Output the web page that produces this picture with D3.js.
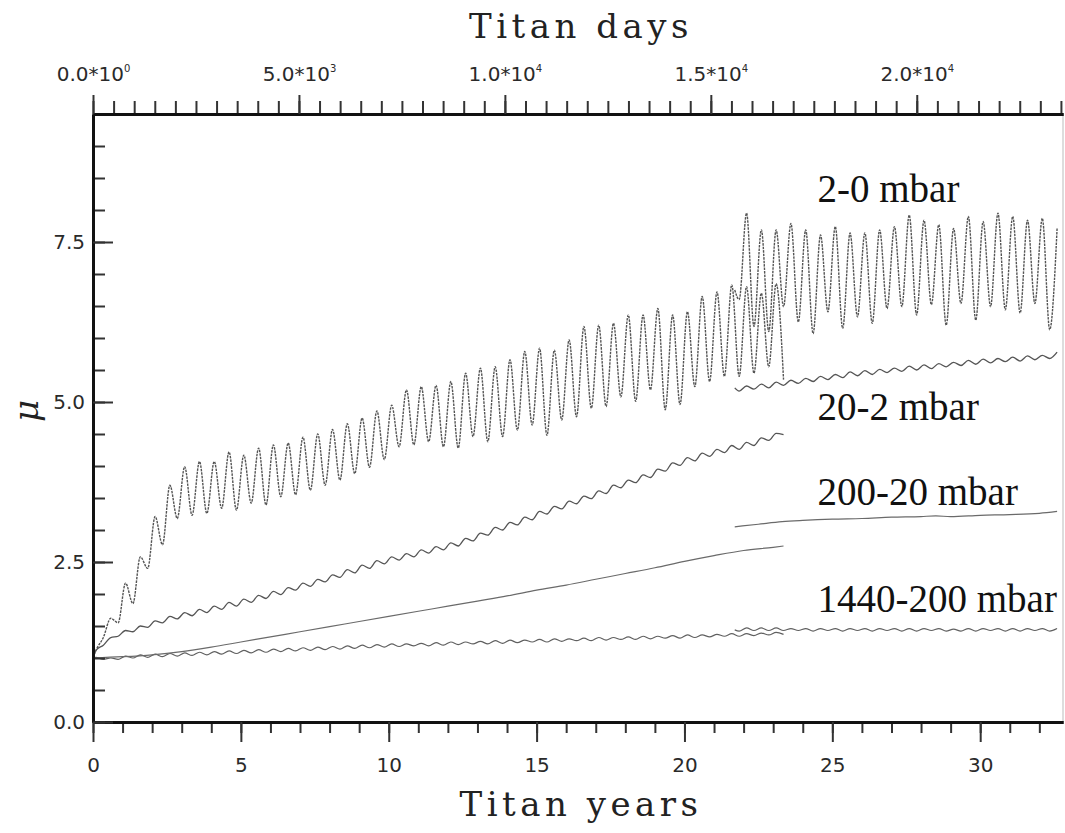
<!DOCTYPE html>
<html>
<head>
<meta charset="utf-8">
<script src="https://cdn.jsdelivr.net/npm/d3@7"></script>
<style>
  html, body { margin: 0; padding: 0; background: #fff; }
  svg { display: block; }
  .tick-label { font-family: "DejaVu Sans", Arial, sans-serif; font-size: 20px; fill: #2a2a2a; }
  .axis-title { font-family: "DejaVu Serif", serif; font-size: 34px; fill: #222; letter-spacing: 4.5px; }
  .series-label { font-family: "Liberation Serif", "Times New Roman", serif; font-size: 39px; fill: #111; }
</style>
</head>
<body>
<svg id="chart" width="1065" height="833"></svg>
<script>
// ---------------- data ----------------
// Axis ticks
const yearMajorTicks = [0, 5, 10, 15, 20, 25, 30];
const muMajorTicks = [0, 2.5, 5.0, 7.5];
const dayMajorTicks = [0, 5000, 10000, 15000, 20000];
const dayTickMantissa = ["0.0", "5.0", "1.0", "1.5", "2.0"];
const dayTickExponent = ["0", "3", "4", "4", "4"];
const titanDaysPerYear = 718;

// Sampling of the oscillating runs: first value sits at the run start,
// the following values are successive half-period extremes.
const halfPeriodStep = 0.25;
const run1Start = 0, run1FirstExtreme = 0.1;
const run2Start = 21.7, run2FirstExtreme = 21.85;

// 2-0 mbar
const mbar2to0Run1 = [1.00,
  1.12, 1.32, 1.62, 1.55, 2.17, 1.85, 2.58, 2.40, 3.21, 2.77,
  3.70, 3.18, 3.99, 3.23, 4.07, 3.26, 4.07, 3.34, 4.22, 3.31,
  4.17, 3.42, 4.28, 3.39, 4.33, 3.52, 4.36, 3.55, 4.45, 3.62,
  4.50, 3.70, 4.57, 3.78, 4.66, 3.88, 4.75, 3.98, 4.86, 4.10,
  4.95, 4.30, 5.19, 4.33, 5.24, 4.38, 5.26, 4.30, 5.32, 4.28,
  5.45, 4.46, 5.53, 4.38, 5.55, 4.46, 5.66, 4.56, 5.79, 4.64,
  5.84, 4.48, 5.81, 4.72, 5.97, 4.77, 6.18, 4.90, 6.20, 4.93,
  6.23, 5.08, 6.36, 5.01, 6.36, 5.19, 6.46, 4.88, 6.36, 4.96,
  6.41, 5.24, 6.65, 5.32, 6.72, 5.40, 6.83, 5.40, 6.80, 5.45,
  6.70, 5.55, 6.85, 5.35];
const mbar2to0Run2 = [6.75,
  6.60, 7.95, 6.18, 7.69, 6.10, 7.69, 6.49, 7.79, 6.25, 7.69,
  6.07, 7.61, 6.41, 7.74, 6.15, 7.64, 6.33, 7.64, 6.23, 7.69,
  6.46, 7.74, 6.49, 7.92, 6.36, 7.84, 6.52, 7.77, 6.20, 7.71,
  6.54, 7.90, 6.28, 7.82, 6.49, 7.95, 6.44, 7.90, 6.39, 7.84,
  6.54, 7.87, 6.13, 7.71];

// 20-2 mbar
const mbar20to2Run1 = [1.00,
  1.12, 1.20, 1.32, 1.34, 1.43, 1.41, 1.50, 1.48, 1.58, 1.55,
  1.65, 1.61, 1.71, 1.66, 1.76, 1.71, 1.81, 1.76, 1.87, 1.81,
  1.92, 1.87, 1.98, 1.93, 2.04, 1.99, 2.10, 2.06, 2.17, 2.12,
  2.23, 2.19, 2.30, 2.26, 2.38, 2.33, 2.45, 2.40, 2.52, 2.47,
  2.58, 2.53, 2.63, 2.58, 2.69, 2.64, 2.74, 2.69, 2.80, 2.75,
  2.87, 2.83, 2.95, 2.92, 3.04, 3.00, 3.12, 3.08, 3.20, 3.16,
  3.29, 3.25, 3.37, 3.33, 3.45, 3.41, 3.53, 3.49, 3.61, 3.57,
  3.70, 3.66, 3.78, 3.74, 3.86, 3.82, 3.95, 3.92, 4.05, 4.01,
  4.13, 4.08, 4.20, 4.15, 4.26, 4.21, 4.32, 4.26, 4.37, 4.32,
  4.44, 4.40, 4.51, 4.49];
const mbar20to2Run2 = [5.22,
  5.17, 5.25, 5.20, 5.28, 5.22, 5.31, 5.26, 5.34, 5.29, 5.37,
  5.32, 5.40, 5.35, 5.43, 5.38, 5.47, 5.41, 5.49, 5.43, 5.51,
  5.46, 5.53, 5.48, 5.56, 5.50, 5.58, 5.52, 5.60, 5.55, 5.62,
  5.57, 5.65, 5.59, 5.67, 5.61, 5.68, 5.63, 5.70, 5.64, 5.72,
  5.66, 5.73, 5.68, 5.78];

// 200-20 mbar (smooth runs, explicit years)
const mbar200to20Run1Years = [0, 1, 2, 3, 4, 5, 6, 7, 8, 9, 10, 11, 12, 13, 14, 15, 16, 17, 18, 19, 20, 21, 22, 23, 23.35];
const mbar200to20Run1 = [1.00, 1.02, 1.05, 1.10, 1.17, 1.25, 1.33, 1.41, 1.49, 1.57, 1.65, 1.73, 1.81, 1.89, 1.97, 2.06, 2.14, 2.23, 2.32, 2.41, 2.51, 2.60, 2.68, 2.73, 2.75];
const mbar200to20Run2Years = [21.7, 22.5, 23.3, 24, 25, 26, 27, 28, 28.5, 29, 30, 31, 32, 32.6];
const mbar200to20Run2 = [3.05, 3.09, 3.13, 3.15, 3.17, 3.18, 3.20, 3.21, 3.22, 3.21, 3.23, 3.24, 3.26, 3.29];

// 1440-200 mbar
const mbar1440to200Run1 = [1.00,
  1.01, 0.98, 1.00, 0.98, 1.03, 1.00, 1.05, 1.01, 1.06, 1.02,
  1.07, 1.03, 1.08, 1.04, 1.09, 1.05, 1.10, 1.06, 1.11, 1.07,
  1.12, 1.08, 1.13, 1.09, 1.14, 1.10, 1.15, 1.11, 1.16, 1.12,
  1.17, 1.13, 1.18, 1.14, 1.19, 1.15, 1.20, 1.16, 1.21, 1.17,
  1.22, 1.18, 1.22, 1.19, 1.23, 1.19, 1.24, 1.20, 1.25, 1.21,
  1.25, 1.22, 1.26, 1.22, 1.27, 1.23, 1.28, 1.24, 1.28, 1.25,
  1.29, 1.25, 1.30, 1.26, 1.30, 1.27, 1.31, 1.27, 1.32, 1.28,
  1.32, 1.29, 1.33, 1.29, 1.34, 1.30, 1.34, 1.31, 1.35, 1.31,
  1.36, 1.32, 1.36, 1.33, 1.37, 1.34, 1.38, 1.34, 1.38, 1.35,
  1.39, 1.36, 1.40, 1.37];
const mbar1440to200Run2 = [1.44,
  1.42, 1.47, 1.43, 1.47, 1.43, 1.47, 1.43, 1.46, 1.43, 1.46,
  1.42, 1.46, 1.43, 1.46, 1.42, 1.46, 1.43, 1.46, 1.42, 1.46,
  1.43, 1.46, 1.42, 1.46, 1.42, 1.46, 1.43, 1.46, 1.42, 1.45,
  1.42, 1.46, 1.42, 1.46, 1.43, 1.46, 1.42, 1.46, 1.42, 1.46,
  1.43, 1.46, 1.42, 1.46];

const seriesLabels = ["2-0 mbar", "20-2 mbar", "200-20 mbar", "1440-200 mbar"];
const seriesLabelAnchor = [[24.5, 8.13], [24.5, 4.72], [24.5, 3.39], [24.5, 1.72]];

// ---------------- layout ----------------
const svg = d3.select("#chart");
const plot = { left: 93, right: 1063, top: 114, bottom: 722 };
const yearMax = 32.8, muMax = 9.5;

const x = d3.scaleLinear().domain([0, yearMax]).range([plot.left, plot.right]);
const xDays = d3.scaleLinear().domain([0, yearMax * titanDaysPerYear]).range([plot.left, plot.right]);
const y = d3.scaleLinear().domain([0, muMax]).range([plot.bottom, plot.top]);

// helper: times for an oscillating run
function runPoints(values, start, firstExtreme) {
  return values.map((v, i) => [i === 0 ? start : firstExtreme + (i - 1) * halfPeriodStep, v]);
}
function pairPoints(years, values) { return years.map((t, i) => [t, values[i]]); }

const line = d3.line().x(d => x(d[0])).y(d => y(d[1])).curve(d3.curveMonotoneX);

const series = [
  { pts: runPoints(mbar1440to200Run1, run1Start, run1FirstExtreme), stroke: "#606060", w: 1.2 },
  { pts: runPoints(mbar1440to200Run2, run2Start, run2FirstExtreme), stroke: "#606060", w: 1.2 },
  { pts: pairPoints(mbar200to20Run1Years, mbar200to20Run1), stroke: "#6a6a6a", w: 1.2 },
  { pts: pairPoints(mbar200to20Run2Years, mbar200to20Run2), stroke: "#6a6a6a", w: 1.2 },
  { pts: runPoints(mbar20to2Run1, run1Start, run1FirstExtreme), stroke: "#555", w: 1.3 },
  { pts: runPoints(mbar20to2Run2, run2Start, run2FirstExtreme), stroke: "#555", w: 1.3 },
  { pts: runPoints(mbar2to0Run1, run1Start, run1FirstExtreme), stroke: "#555", w: 1.4, dash: "2.5 1" },
  { pts: runPoints(mbar2to0Run2, run2Start, run2FirstExtreme), stroke: "#555", w: 1.4, dash: "2.5 1" }
];

const lines = svg.append("g");
series.forEach(s => {
  lines.append("path")
    .attr("d", line(s.pts))
    .attr("fill", "none")
    .attr("stroke", s.stroke)
    .attr("stroke-width", s.w)
    .attr("stroke-dasharray", s.dash || null);
});

// right frame edge
svg.append("line")
  .attr("x1", plot.right).attr("x2", plot.right)
  .attr("y1", plot.top).attr("y2", plot.bottom)
  .attr("stroke", "#bbb").attr("stroke-width", 1);

function styleAxis(g) {
  g.select(".domain").attr("stroke", "#111").attr("stroke-width", 3);
  g.selectAll(".tick line").attr("stroke", "#333").attr("stroke-width", 2);
}

// bottom axis: minor every year, major every 5 years
const bottomMinor = svg.append("g").attr("transform", `translate(0,${plot.bottom})`)
  .call(d3.axisBottom(x).tickValues(d3.range(0, 33, 1)).tickSize(11).tickSizeOuter(0).tickFormat(""));
styleAxis(bottomMinor);
const bottomMajor = svg.append("g").attr("transform", `translate(0,${plot.bottom})`)
  .call(d3.axisBottom(x).tickValues(yearMajorTicks).tickSize(20).tickSizeOuter(0).tickPadding(16).tickFormat(d3.format("d")));
styleAxis(bottomMajor);
bottomMajor.selectAll("text").attr("class", "tick-label").attr("fill", null);

// left axis: ticks point into the plot
const leftMinor = svg.append("g").attr("transform", `translate(${plot.left},0)`)
  .call(d3.axisLeft(y).tickValues(d3.range(0, 9.5, 0.5)).tickSize(-12).tickSizeOuter(0).tickFormat(""));
styleAxis(leftMinor);
const leftMajor = svg.append("g").attr("transform", `translate(${plot.left},0)`)
  .call(d3.axisLeft(y).tickValues(muMajorTicks).tickSize(-20).tickSizeOuter(0).tickPadding(8).tickFormat(d3.format(".1f")));
styleAxis(leftMajor);
leftMajor.selectAll("text").attr("class", "tick-label").attr("fill", null);

// top axis: Titan days
const topMinor = svg.append("g").attr("transform", `translate(0,${plot.top})`)
  .call(d3.axisTop(xDays).tickValues(d3.range(0, yearMax * titanDaysPerYear, 500)).tickSize(13).tickSizeOuter(0).tickFormat(""));
styleAxis(topMinor);
const topMajor = svg.append("g").attr("transform", `translate(0,${plot.top})`)
  .call(d3.axisTop(xDays).tickValues(dayMajorTicks).tickSize(19).tickSizeOuter(0).tickPadding(14).tickFormat(""));
styleAxis(topMajor);
topMajor.selectAll(".tick text").each(function(d, i) {
  const t = d3.select(this).attr("class", "tick-label").attr("fill", null);
  t.append("tspan").text(dayTickMantissa[i] + "*10");
  t.append("tspan").attr("font-size", "10px").attr("dy", "-9").text(dayTickExponent[i]);
});

// axis titles
svg.append("text").attr("class", "axis-title")
  .attr("x", 581).attr("y", 816).attr("text-anchor", "middle").text("Titan years");
svg.append("text").attr("class", "axis-title")
  .attr("x", 581).attr("y", 38).attr("text-anchor", "middle").text("Titan days");
svg.append("text")
  .attr("transform", "translate(38,411) rotate(-90)")
  .attr("text-anchor", "middle")
  .attr("font-family", "DejaVu Serif, serif").attr("font-style", "italic")
  .attr("font-size", 34).attr("fill", "#222")
  .text("μ");

// series labels
svg.append("g").selectAll("text").data(seriesLabels).join("text")
  .attr("class", "series-label")
  .attr("x", (d, i) => x(seriesLabelAnchor[i][0]))
  .attr("y", (d, i) => y(seriesLabelAnchor[i][1]))
  .text(d => d);
</script>
</body>
</html>
